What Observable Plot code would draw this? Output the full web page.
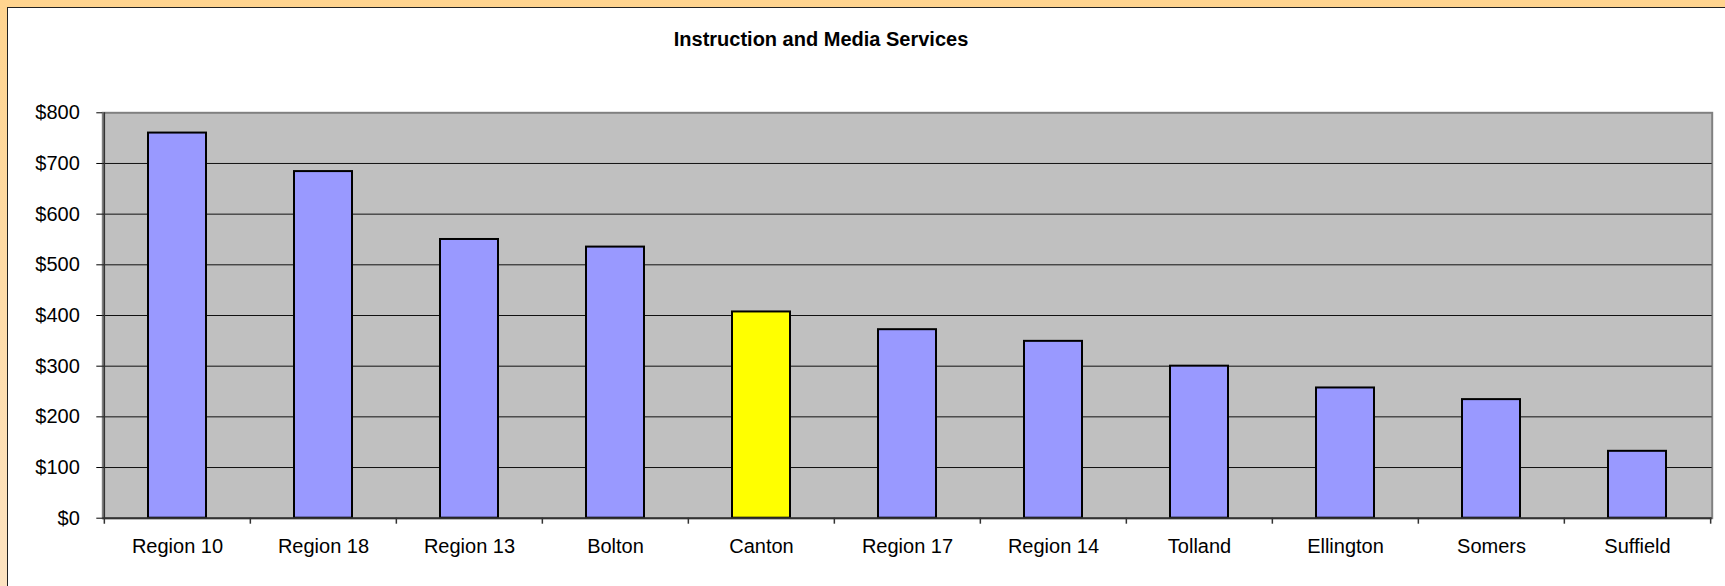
<!DOCTYPE html>
<html>
<head>
<meta charset="utf-8">
<script src="https://cdn.jsdelivr.net/npm/d3@7"></script>
<script src="https://cdn.jsdelivr.net/npm/@observablehq/plot@0.6"></script>
<style>
  html, body { margin: 0; padding: 0; width: 1725px; height: 586px; overflow: hidden; }
  body { background: linear-gradient(to bottom, #ffd48f, #fde3c1); position: relative; font-family: "Liberation Sans", Arial, sans-serif; }
  #panel { position: absolute; left: 7px; top: 7px; width: 1800px; height: 700px; background: #fff; border-left: 1.5px solid #222; border-top: 1.5px solid #222; }
  #title { position: absolute; left: 421px; top: 27px; width: 800px; text-align: center; font-weight: bold; font-size: 20px; line-height: 24px; color: #000; }
  #chart { position: absolute; left: 0; top: 60px; }
</style>
</head>
<body>
<div id="panel"></div>
<div id="title">Instruction and Media Services</div>
<div id="chart"></div>
<script>
const categories = ["Region 10", "Region 18", "Region 13", "Bolton", "Canton", "Region 17", "Region 14", "Tolland", "Ellington", "Somers", "Suffield"];
const values = [760, 684, 550, 535, 407, 372, 349, 300, 257, 234, 132];
const highlight = "Canton";
const yTicks = [0, 100, 200, 300, 400, 500, 600, 700, 800];
const gridTicks = [100, 200, 300, 400, 500, 600, 700];

const data = categories.map((c, i) => ({town: c, value: values[i]}));

const W = 1725, H = 526;
const mL = 102.3, mR = 13.3, mT = 52.3, mB = 68.3;
const step = (W - mL - mR) / categories.length;
const axisColor = "#333";

const chart = Plot.plot({
  width: W,
  height: H,
  marginTop: mT,
  marginBottom: mB,
  marginLeft: mL,
  marginRight: mR,
  style: {fontFamily: "'Liberation Sans', Arial, sans-serif", fontSize: "20px", color: "#000", background: "transparent", overflow: "visible"},
  x: {domain: categories, paddingInner: 0.6, paddingOuter: 0.3, axis: null, label: null},
  y: {domain: [0, 800], axis: null, label: null},
  marks: [
    Plot.frame({fill: "#c0c0c0", stroke: "#808080", strokeWidth: 2}),
    Plot.gridY(gridTicks, {stroke: "#111", strokeOpacity: 1, strokeWidth: 1}),
    Plot.barY(data, {filter: d => d.town !== highlight, x: "town", y: "value", fill: "#9999ff", stroke: "#000", strokeWidth: 2}),
    Plot.barY(data, {filter: d => d.town === highlight, x: "town", y: "value", fill: "#ffff00", stroke: "#000", strokeWidth: 2}),
    Plot.ruleY([0], {stroke: axisColor, strokeWidth: 2}),
    Plot.ruleX([categories[0]], {x: d => d, dx: -step / 2, stroke: axisColor, strokeWidth: 1.5, insetBottom: -6}),
    Plot.ruleX(categories.slice(1), {x: d => d, dx: -step / 2, y1: 0, y2: 0, insetBottom: -6, stroke: axisColor, strokeWidth: 1.5}),
    Plot.ruleX([categories[categories.length - 1]], {x: d => d, dx: step / 2, y1: 0, y2: 0, insetBottom: -6, stroke: axisColor, strokeWidth: 1.5}),
    Plot.axisY({ticks: yTicks, tickFormat: d => "$" + d, tickSize: 6, tickPadding: 17, fontSize: 20, label: null}),
    Plot.axisX({tickSize: 0, tickPadding: 21, fontSize: 20, label: null})
  ]
});
document.getElementById("chart").appendChild(chart);
</script>
</body>
</html>
